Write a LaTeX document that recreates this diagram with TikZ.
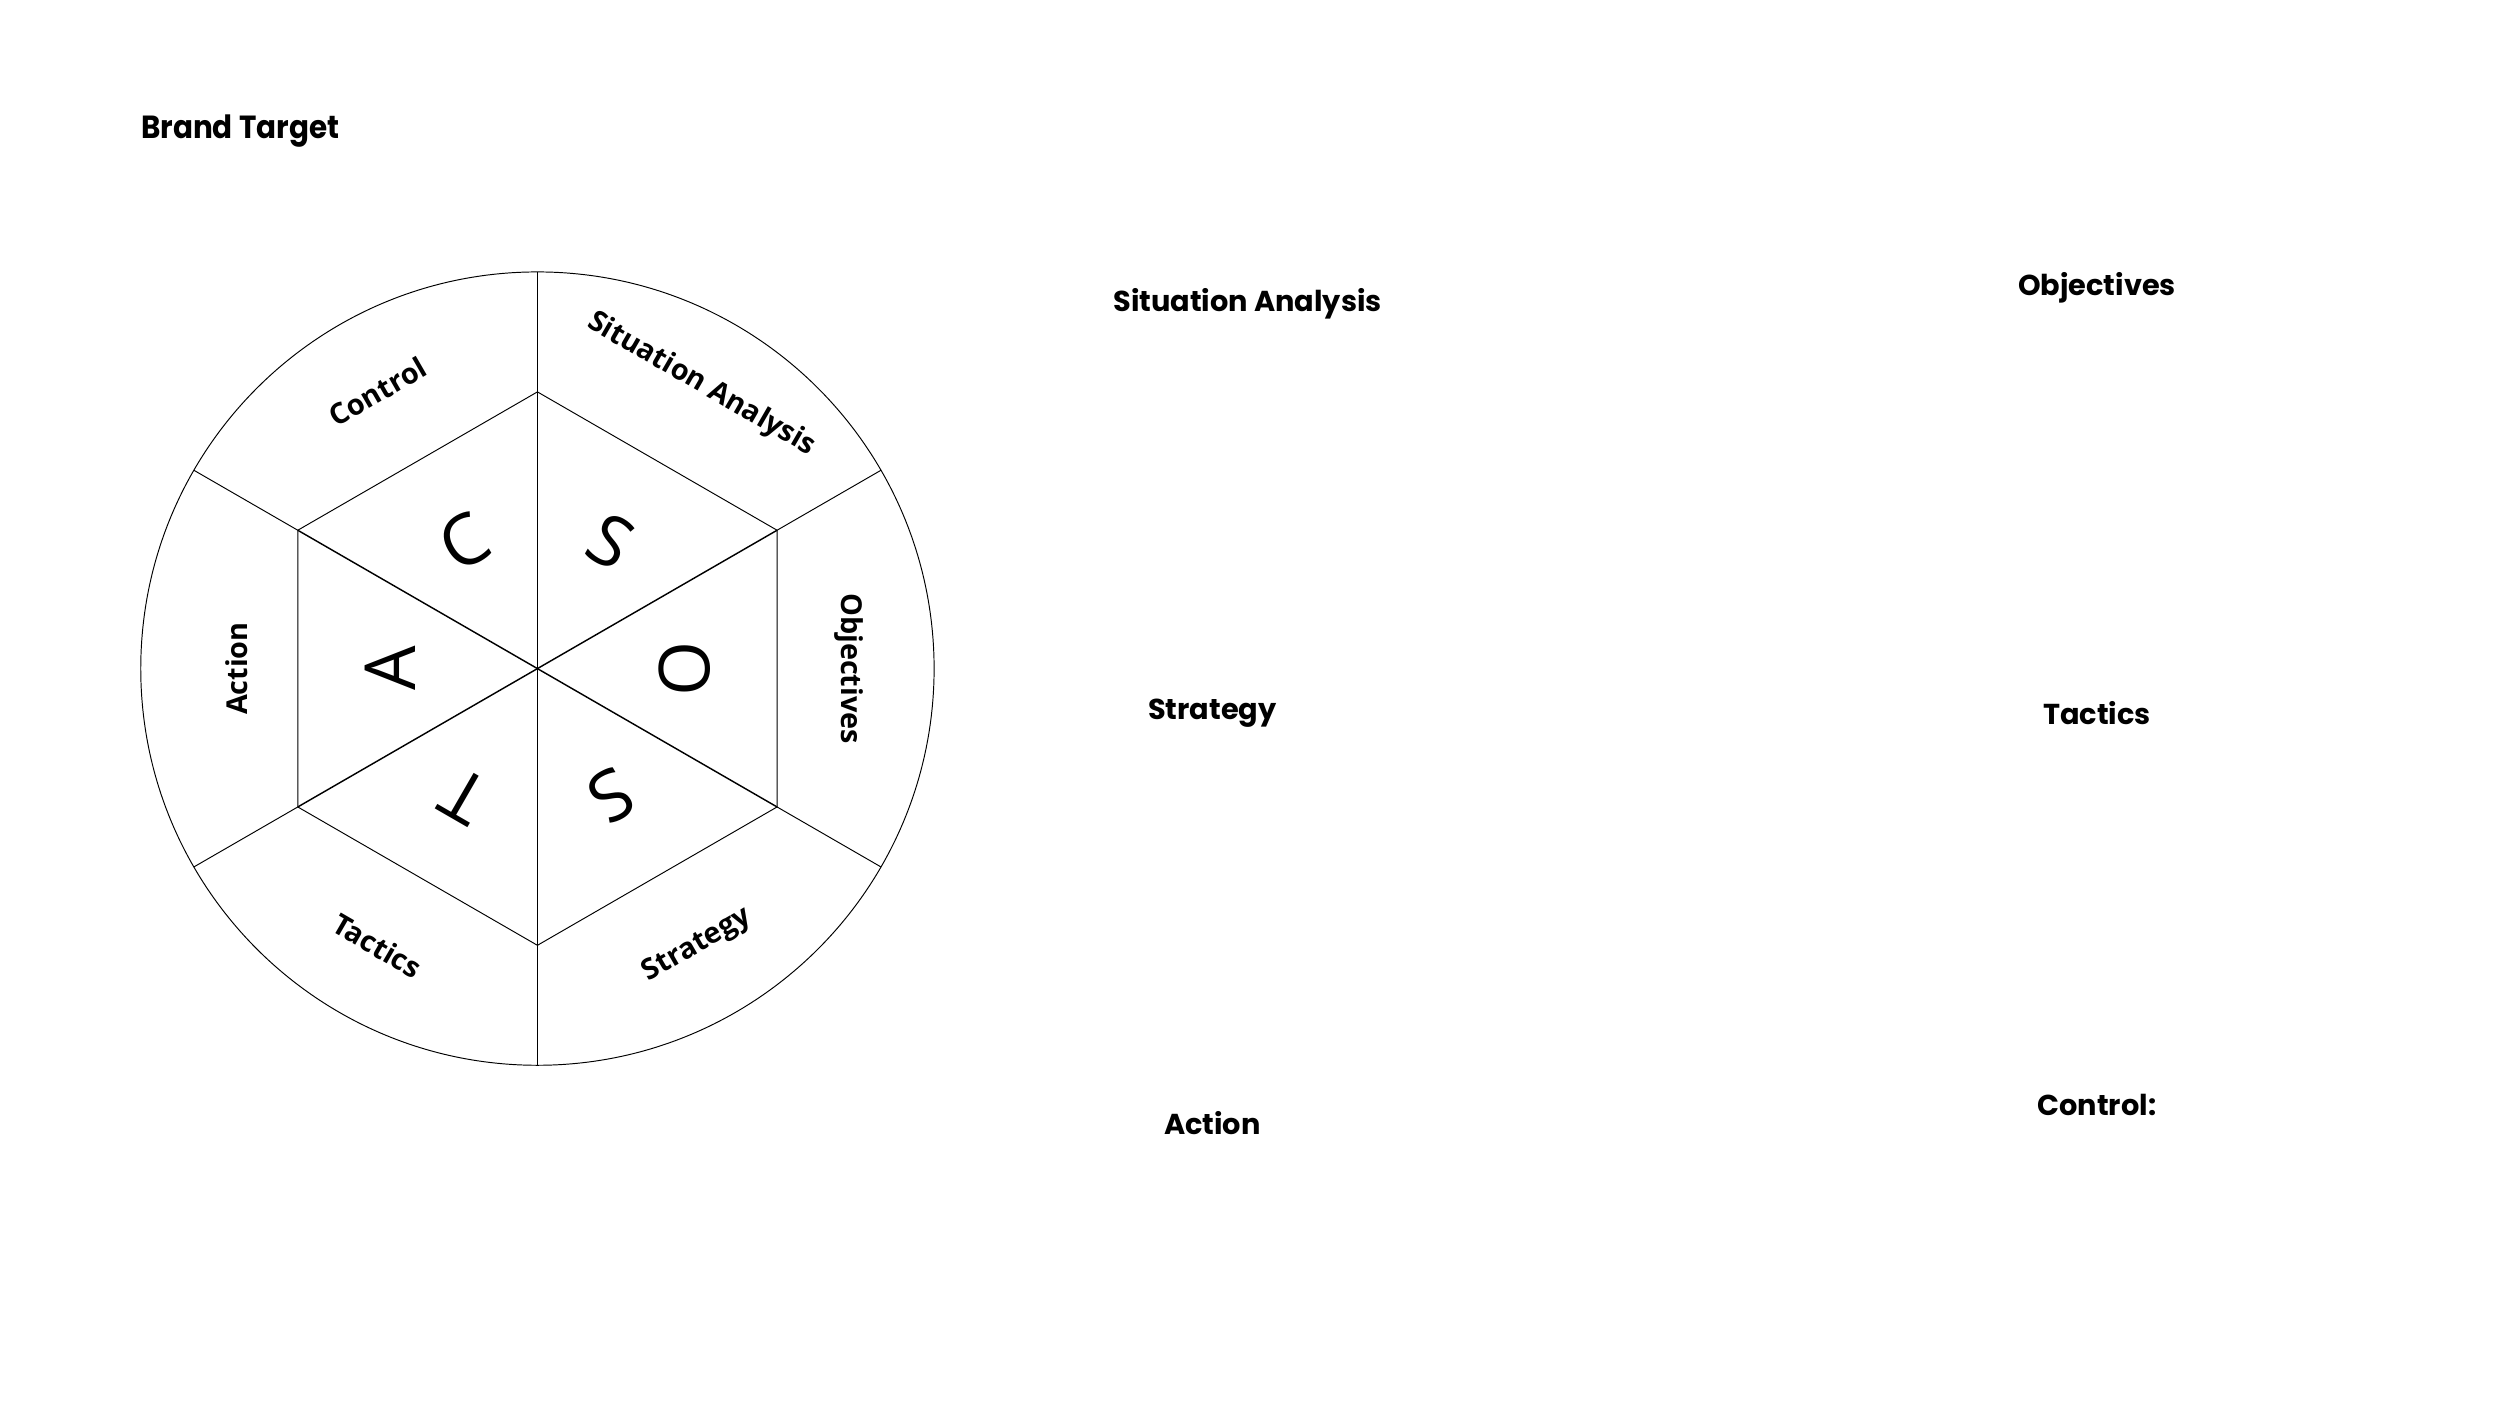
\documentclass[tikz,border=0pt]{standalone}
\usepackage{fontspec}
\setmainfont{Open Sans}
\newfontfamily\pop{Poppins}
\begin{document}
\begin{tikzpicture}[x=1pt,y=-1pt,
  ring/.style={font=\bfseries\fontsize{18}{20}\selectfont},
  letter/.style={font=\fontsize{44}{44}\selectfont},
  side/.style={font=\pop\bfseries\fontsize{18}{22}\selectfont},
  thin/.style={line width=0.6pt}]
\useasboundingbox (0,0) rectangle (1563,879);
\coordinate (c) at (336,418);
\draw[thin] (c) circle (248);
\foreach \a [count=\i] in {90,30,-30,-90,-150,150}{
  \coordinate (h\i) at ([shift={(\a:173)}]336,418);
  \coordinate (o\i) at ([shift={(\a:248)}]336,418);
}
\draw[thin] (h1)--(h2)--(h3)--(h4)--(h5)--(h6)--cycle;
\foreach \i in {1,...,6}{
  \draw[thin] (h\i)--(o\i);
  \draw[line width=0.9pt] (c)--(h\i);
}
\foreach \a/\t [count=\i] in {60/S,0/O,-60/S,-120/T,180/A,120/C}{
  \pgfmathsetmacro\r{\a-90}
  \pgfmathsetmacro\p{-\a}
  \node[letter,rotate=\r] (L\i) at ([shift={(\p:92)}]336,418) {\t};
}
\node[ring,rotate=-30] (r1) at ([shift={(-60:205)}]336,418) {Situation Analysis};
\node[ring,rotate=-90] (r2) at ([shift={(0:195)}]336,418) {Objectives};
\node[ring,rotate=30] (r3) at ([shift={(60:200)}]336,418) {Strategy};
\node[ring,rotate=-30] (r4) at ([shift={(120:200)}]336,418) {Tactics};
\node[ring,rotate=90] (r5) at ([shift={(180:188)}]336,418) {Action};
\node[ring,rotate=30] (r6) at ([shift={(-120:200)}]336,418) {Control};
\node[anchor=west,font=\pop\bfseries\fontsize{20}{24}\selectfont,inner sep=0,xscale=0.92] (title) at (88,82) {Brand Target};
\node[side] (s1) at (780,190) {Situation Analysis};
\node[side] (s2) at (1311,180) {Objectives};
\node[side] (s3) at (758,446) {Strategy};
\node[side] (s4) at (1311,446) {Tactics};
\node[side] (s5) at (758,702) {Action};
\node[side] (s6) at (1311,691) {Control:};
\end{tikzpicture}
\end{document}
